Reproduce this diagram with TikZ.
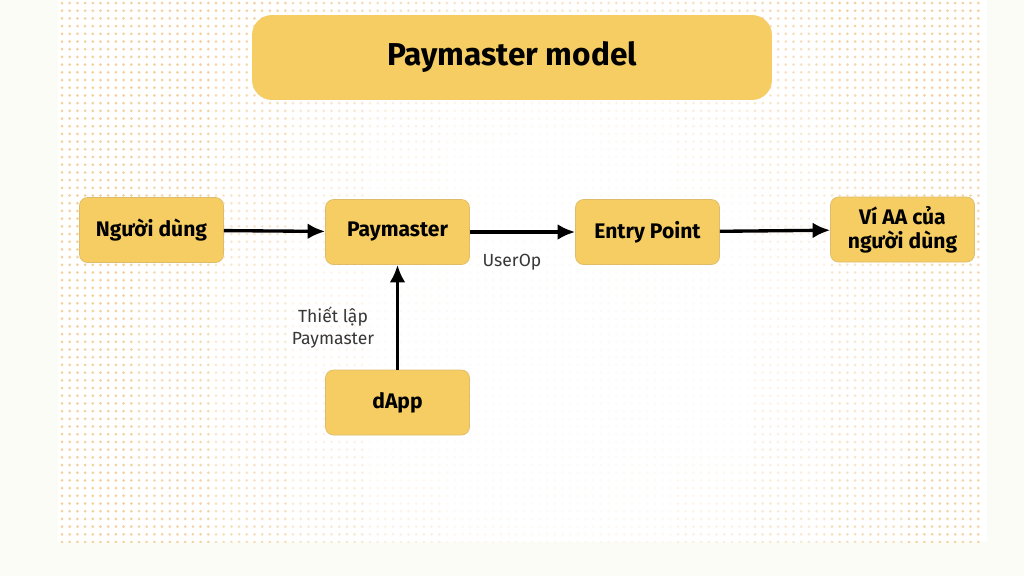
\documentclass[tikz,border=0pt]{standalone}
\usepackage{fontspec}
\setmainfont{Fira Sans}
\usetikzlibrary{arrows.meta}
\definecolor{boxyellow}{RGB}{245,205,99}
\definecolor{boxedge}{RGB}{222,188,105}
\definecolor{dotcol}{RGB}{244,208,158}
\definecolor{pagebg}{RGB}{251,252,245}
\definecolor{labelgray}{RGB}{55,55,55}

\begin{document}
\begin{tikzpicture}[x=0.02cm, y=-0.02cm,
    box/.style={
        rectangle, rounded corners=0.16cm,
        draw=boxedge, fill=boxyellow,
        minimum width=2.88cm, minimum height=1.3cm,
        inner sep=2pt, font=\fontsize{12}{13.5}\selectfont\bfseries},
    titlebox/.style={
        rectangle, rounded corners=0.4cm,
        fill=boxyellow, minimum width=10.4cm, minimum height=1.7cm,
        font=\fontsize{18}{20}\selectfont\bfseries},
    lbl/.style={text=labelgray, inner sep=1pt,
        font=\fontsize{10}{12.5}\selectfont},
    arrow/.style={-{Latex[length=10pt,width=9pt]}, line width=1.9pt},
    dotrow/.style={line width=0.06cm, line cap=round,
        dash pattern=on 0pt off 0.154cm},
    ]

    % page and dotted panel
    \useasboundingbox (0,0) rectangle (1024,576);
    \fill[pagebg] (0,0) rectangle (1024,576);
    \fill[white] (58,0) rectangle (987,542);
    \begin{scope}
        \clip (58,0) rectangle (987,542);
        \foreach \j in {0,...,70}{
            \foreach \k in {0,...,11}{
                \pgfmathtruncatemacro\op{100*min(1,max(0.08,(veclen(\k*77+100-560,\j*7.7+3-330)-170)/280))}
                \draw[dotrow, dotcol!\op!white] (\k*77+62,\j*7.7+3) -- (\k*77+135,\j*7.7+3);
            }
        }
    \end{scope}

    \node[titlebox] (title) at (512,57.5) {Paymaster model};

    \node (user) [box] at (151.5,230) {Người dùng};
    \node (pay) [box] at (397.5,232) {Paymaster};
    \node (entry) [box] at (647.5,232) {Entry Point};
    \node (wallet) [box, align=center] at (902.5,229.5) {Ví AA của\\người dùng};
    \node (dapp) [box] at (397.5,402.5) {dApp};

    \node (userop) [lbl] at (512,262) {UserOp};
    \node (setup) [lbl, align=center] at (333,328) {Thiết lập\\Paymaster};

    \draw[arrow] (user) -- (pay);
    \draw[arrow] (pay) -- (entry);
    \draw[arrow] (entry) -- (wallet);
    \draw[arrow] (dapp) -- (pay);
\end{tikzpicture}
\end{document}
